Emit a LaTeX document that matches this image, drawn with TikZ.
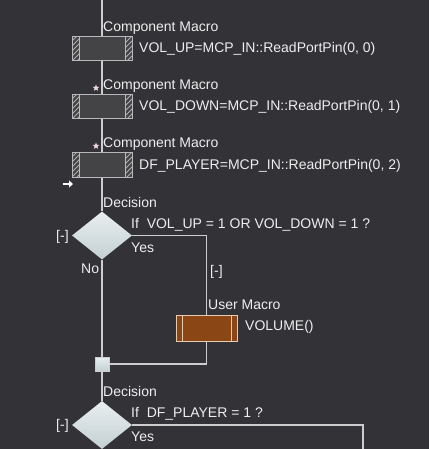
\documentclass[tikz,border=0pt]{standalone}
\usepackage{fontspec}
\setmainfont{Liberation Sans}
\usetikzlibrary{arrows.meta,shapes.geometric}

\definecolor{bgcol}{RGB}{51,50,55}
\definecolor{linecol}{RGB}{205,205,205}
\definecolor{txtcol}{RGB}{238,238,238}
\definecolor{boxfill}{RGB}{68,68,70}
\definecolor{boxline}{RGB}{185,185,185}
\definecolor{hatchcol}{RGB}{175,175,175}
\definecolor{userfill}{RGB}{139,70,22}
\definecolor{userline}{RGB}{232,204,176}
\definecolor{diatop}{RGB}{232,238,240}
\definecolor{diabot}{RGB}{196,208,210}
\definecolor{starcol}{RGB}{240,215,222}

\begin{document}
\begin{tikzpicture}[x=1pt,y=-1pt,
font=\fontsize{14}{16}\selectfont,
txt/.style={text=txtcol,anchor=base west,inner sep=0pt},
flow/.style={draw=linecol,line width=1.8pt},
compbox/.style={draw=boxline,fill=boxfill,line width=1pt,minimum width=60pt,minimum height=24pt,inner sep=0pt,
  path picture={
    \begin{scope}
      \clip (path picture bounding box.south west) rectangle ([xshift=7pt]path picture bounding box.north west)
            (path picture bounding box.south east) rectangle ([xshift=-7pt]path picture bounding box.north east);
      \foreach \k in {-40,-35,...,70}
        \draw[hatchcol,line width=0.8pt] ([xshift=\k pt]path picture bounding box.south west) -- ++(30,-30);
    \end{scope}
    \draw[boxline,line width=1pt] ([xshift=7pt]path picture bounding box.south west) -- ([xshift=7pt]path picture bounding box.north west);
    \draw[boxline,line width=1pt] ([xshift=-7pt]path picture bounding box.south east) -- ([xshift=-7pt]path picture bounding box.north east);}},
userbox/.style={draw=userline,fill=userfill,line width=1pt,minimum width=61pt,minimum height=26pt,inner sep=0pt,
  path picture={
    \draw[userline,line width=1pt] ([xshift=6pt]path picture bounding box.south west) -- ([xshift=6pt]path picture bounding box.north west);
    \draw[userline,line width=1pt] ([xshift=-6pt]path picture bounding box.south east) -- ([xshift=-6pt]path picture bounding box.north east);}},
decision/.style={diamond,draw=none,top color=diatop,bottom color=diabot,minimum width=60pt,minimum height=48pt,inner sep=0pt},
joinbox/.style={rectangle,draw=linecol,top color=diatop,bottom color=diabot,line width=0.6pt,minimum size=14pt,inner sep=0pt},
markstar/.style={star,star points=5,star point ratio=2.3,fill=starcol,minimum size=7pt,inner sep=0pt},
marker/.style={-{Triangle[length=4pt,width=7pt]},line width=2.2pt,draw=white}]

\fill[bgcol] (0,0) rectangle (429,449);
\useasboundingbox (0,0) rectangle (429,449);

% component macros
\coordinate (top) at (102,0);
\node[compbox] (cm1) at (102,49) {};
\node[compbox] (cm2) at (102,107) {};
\node[compbox] (cm3) at (102,165) {};

\node[txt] (cm1lab) at (103,32) {Component Macro};
\node[txt] (cm2lab) at (103,90) {Component Macro};
\node[txt] (cm3lab) at (103,148) {Component Macro};

\node[txt] (cm1txt) at (139,53) {VOL\_UP=MCP\_IN::ReadPortPin(0, 0)};
\node[txt] (cm2txt) at (139,111) {VOL\_DOWN=MCP\_IN::ReadPortPin(0, 1)};
\node[txt] (cm3txt) at (139,169) {DF\_PLAYER=MCP\_IN::ReadPortPin(0, 2)};

\node[markstar] (st2) at (96,88) {};
\node[markstar] (st3) at (96,146) {};

\coordinate (mk1) at (63,184);
\coordinate (mk2) at (73,184);
\draw[marker] (mk1) -- (mk2);

% first decision
\node[decision] (dec1) at (102,235.5) {};
\node[txt] (dec1lab) at (103,207) {Decision};
\node[txt] (dec1txt) at (131,228) {If\ \ VOL\_UP = 1 OR VOL\_DOWN = 1 ?};
\node[txt] (dec1col) at (56,240) {[-]};
\node[txt] (dec1yes) at (131,252) {Yes};
\node[txt] (dec1no) at (81,273) {No};
\node[txt] (yescol) at (210,275) {[-]};

\node[userbox] (um1) at (206.5,328) {};
\node[txt] (um1lab) at (208,309) {User Macro};
\node[txt] (um1txt) at (245,330) {VOLUME()};

\node[joinbox] (join) at (102,364) {};

% second decision
\node[decision] (dec2) at (102,425) {};
\node[txt] (dec2lab) at (103,396) {Decision};
\node[txt] (dec2txt) at (131,417) {If\ \ DF\_PLAYER = 1 ?};
\node[txt] (dec2col) at (56,429) {[-]};
\node[txt] (dec2yes) at (131,441) {Yes};
\coordinate (dec2end) at (363,452);

\draw[flow] (top) -- (cm1);
\draw[flow] (cm1) -- (cm2);
\draw[flow] (cm2) -- (cm3);
\draw[flow] (cm3) -- (dec1);
\draw[flow] (dec1) -- (join);
\draw[flow] (dec1.east) -| (um1.north);
\draw[flow] (um1.south) |- (join.east);
\draw[flow] (join) -- (dec2);
\draw[flow] (dec2.east) -| (dec2end);

\end{tikzpicture}
\end{document}
